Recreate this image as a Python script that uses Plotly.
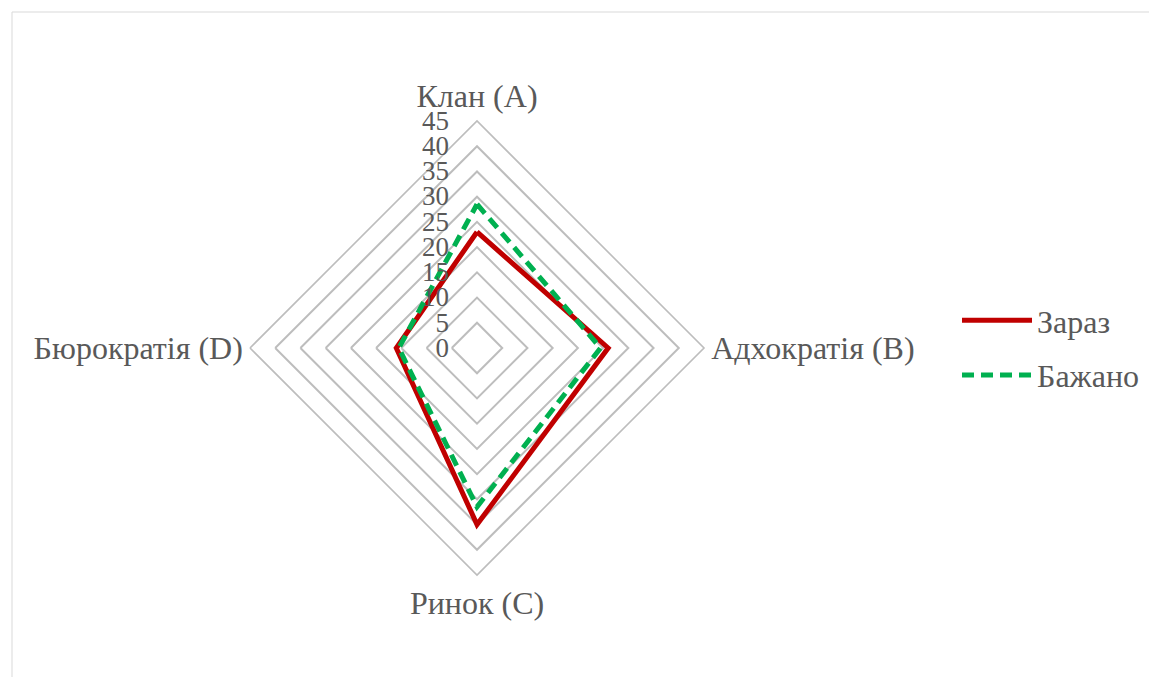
import plotly.graph_objects as go

# Organisational culture profile (OCAI): four culture types
categories = ["Клан (A)", "Адхократія (B)", "Ринок (C)", "Бюрократія (D)"]
current = [23, 26, 35, 16]      # Зараз
desired = [28.5, 24.5, 31.5, 15.5]  # Бажано
tick_vals = [0, 5, 10, 15, 20, 25, 30, 35, 40, 45]
tick_text = [str(v) for v in tick_vals]

W, H = 1149, 677
cx, cy, R = 477, 348, 227  # plot centre and outer radius, px

TEXT = "#595959"
GRID = "#BDBDBD"
FONT = "Liberation Serif"


def closed(vals):
    return vals + vals[:1]


fig = go.Figure()
fig.add_trace(go.Scatterpolar(
    r=closed(current), theta=closed(categories), name="Зараз",
    legendgroup="now",
    mode="lines", line=dict(color="#C00000", width=5),
))
fig.add_trace(go.Scatterpolar(
    r=closed(desired), theta=closed(categories), name="Бажано",
    legendgroup="want",
    mode="lines", line=dict(color="#00B050", width=5, dash="12px,7px"),
))

fig.update_layout(
    width=W, height=H,
    margin=dict(l=0, r=0, t=0, b=0),
    paper_bgcolor="white",
    font=dict(family=FONT, color=TEXT),
    polar=dict(
        domain=dict(x=[(cx - R) / W, (cx + R) / W],
                    y=[(H - cy - R) / H, (H - cy + R) / H]),
        bgcolor="white",
        gridshape="linear",
        radialaxis=dict(
            range=[0, 45], tickvals=tick_vals, ticktext=tick_text,
            angle=90, tickangle=90, side="counterclockwise",
            showline=False,
            # invisible ticks keep the labels clear of the axis
            ticks="outside", ticklen=18, tickcolor="rgba(0,0,0,0)",
            gridcolor=GRID, gridwidth=1.6,
            tickfont=dict(family=FONT, size=27, color=TEXT),
        ),
        angularaxis=dict(
            rotation=90, direction="clockwise",
            showgrid=False, showline=True, linecolor=GRID, linewidth=1.6,
            ticks="", tickfont=dict(family=FONT, size=32, color=TEXT),
        ),
    ),
    legend=dict(
        x=957 / W, y=1 - 293 / H, xanchor="left", yanchor="top",
        font=dict(family=FONT, size=32, color=TEXT),
        itemwidth=70, bgcolor="rgba(0,0,0,0)", tracegroupgap=10,
    ),
    shapes=[dict(
        type="rect", xref="paper", yref="paper",
        x0=12 / W, x1=1.01, y0=-0.01, y1=1 - 12 / H,
        line=dict(color="#D9D9D9", width=1), fillcolor="rgba(0,0,0,0)",
    )],
)

fig.write_html("out.html")
